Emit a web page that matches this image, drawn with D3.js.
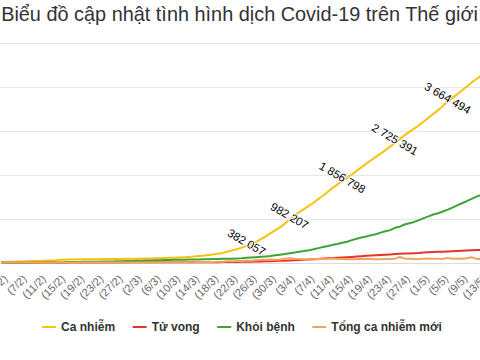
<!DOCTYPE html>
<html><head><meta charset="utf-8">
<script src="https://cdn.jsdelivr.net/npm/d3@7"></script>
<style>html,body{margin:0;padding:0;background:#fff;overflow:hidden}</style>
</head><body>
<svg id="chart" width="480" height="360"></svg>
<script>
const title = "Biểu đồ cập nhật tình hình dịch Covid-19 trên Thế giới";
const seriesNames = ["Ca nhiễm", "Tử vong", "Khỏi bệnh", "Tổng ca nhiễm mới"];
const seriesColors = ["#f5c211", "#e5352b", "#3ea43a", "#f5a35e"];
const firstDay = "1/2", lastDay = "13/5";
const xTickLabels = ["3/2","7/2","11/2","15/2","19/2","23/2","27/2","2/3","6/3","10/3","14/3","18/3","22/3","26/3","30/3","3/4","7/4","11/4","15/4","19/4","23/4","27/4","1/5","5/5","9/5","13/5"];
const yTicks = [0, 1000000, 2000000, 3000000, 4000000, 5000000];
const labelledValues = [382057, 982207, 1856798, 2725391, 3664494];

const cases = [12000,14600,17300,20600,24500,28300,31500,34900,37600,40600,43100,45200,
60400,64400,67100,69300,71400,73300,75200,75700,76800,77800,78800,79300,80200,81300,82700,84100,86000,
88400,90400,93100,95300,98200,102200,106100,110100,114200,119000,126100,134600,
145600,156400,169400,182400,198200,218800,246300,275400,305300,337500,
382057,422600,471800,531900,596700,663100,730000,800000,885000,982207,
1066000,1145000,1217000,1288000,1362000,1446000,1525000,1610000,1700000,1780000,
1856798,1930000,2005000,2086000,2168000,2251000,2330000,2405000,2480000,2560000,2640000,
2725391,2811000,2897000,2975000,3050000,3125000,3210000,3298000,3385000,3470000,3565000,
3664494,3748000,3835000,3925000,4011000,4100000,4180000,4258000,4338000,4420000];

const deaths = [259,362,426,492,564,634,719,806,906,1013,1113,1118,1371,1523,1666,1770,1868,2007,2122,2247,2251,2458,2469,2629,2708,2770,2814,2872,2941,
2996,3085,3160,3254,3348,3460,3558,3802,3988,4262,4615,4720,5404,5819,6440,7126,7905,8733,9867,11299,12973,14623,
16497,18615,21181,23970,27198,30652,33925,37582,42107,46809,52983,58787,64606,69374,74565,81865,88338,95455,102525,108503,
114090,119482,125984,134177,143800,153822,159510,165044,169986,176583,183066,190858,197159,202668,206544,211167,217153,227638,233388,238650,
243401,247503,251537,257239,263855,269567,274898,279311,282709,286330,291942,297197];

const recovered = [280,470,630,850,1120,1490,2050,2620,3250,3950,4680,5150,6300,8100,9400,10900,12600,14400,16200,18200,18900,22900,23400,25200,27900,30400,33300,36700,39800,
42700,45600,48200,51200,53800,55900,58400,60700,62500,64400,67000,68300,70300,72600,76000,78100,80800,83300,84900,87300,91700,97900,
107000,113800,122200,130900,139400,149100,164600,178000,193200,210300,225800,246200,260000,276500,300000,328000,353000,376000,402000,421000,
448000,474000,510000,542000,568000,592000,623000,645000,680000,710000,738000,790000,816000,866000,895000,924000,965000,1012000,1052000,1093000,
1122000,1163000,1205000,1250000,1300000,1350000,1400000,1450000,1500000,1540000,1580000,1620000];

const newCases = [2100,4700,3100,4000,3700,3200,3600,2700,3000,2600,2000,400,
15200,6500,2100,2200,2000,1900,500,600,600,1800,400,600,800,1000,1400,1400,1900,
2400,1900,2500,2300,2800,3900,4000,4000,3700,5000,7300,2500,
16900,10900,11400,14100,15600,17800,27800,29500,32400,32400,
45000,40500,49200,60100,64800,66400,60600,70000,85000,97000,
84000,79000,72000,71000,74000,84000,79000,85000,90000,80000,
77000,73000,75000,81000,82000,83000,79000,75000,75000,80000,
82000,88000,125000,92000,85000,80000,78000,86000,90000,88000,
84000,82000,105000,84000,92000,88000,95000,118000,82000,76000,84000,88000];

const parseDay = s => { const [d, m] = s.split("/").map(Number); return new Date(2020, m - 1, d); };
const dates = d3.timeDay.range(parseDay(firstDay), d3.timeDay.offset(parseDay(lastDay), 1));
const series = [cases, deaths, recovered, newCases];

const svg = d3.select("#chart");
const W = 480, H = 360;
const plotLeft = 2.2, dayPx = 4.79, plotTop = 43, plotBottom = 262.5;

const x = d3.scaleTime()
  .domain([dates[0], dates[dates.length - 1]])
  .range([plotLeft, plotLeft + dayPx * (dates.length - 1)]);
const y = d3.scaleLinear().domain([0, 5000000]).range([plotBottom, plotTop]);

// gridlines
svg.append("g").selectAll("line").data(yTicks).join("line")
  .attr("x1", 0).attr("x2", W)
  .attr("y1", d => Math.round(y(d)) + 0.5).attr("y2", d => Math.round(y(d)) + 0.5)
  .attr("stroke", d => d === 0 ? "#dcdcdc" : "#e6e6e6").attr("stroke-width", 1);

// x axis labels
const xAxis = d3.axisBottom(x)
  .tickValues(xTickLabels.map(parseDay))
  .tickFormat(d => "(" + d.getDate() + "/" + (d.getMonth() + 1) + ")")
  .tickSize(0);
const gx = svg.append("g").attr("transform", `translate(0,${plotBottom})`).call(xAxis);
gx.select(".domain").remove();
gx.selectAll("text")
  .attr("font-family", "Liberation Sans, Arial, sans-serif")
  .attr("font-size", 11).attr("fill", "#666")
  .attr("text-anchor", "end")
  .attr("dy", null).attr("y", 0)
  .attr("transform", "translate(-4,17) rotate(-45)");

// lines
const line = d3.line().x((d, i) => x(dates[i])).y(d => y(d));
series.forEach((s, k) => {
  svg.append("path").datum(s)
    .attr("d", line).attr("fill", "none")
    .attr("stroke", seriesColors[k]).attr("stroke-width", 2)
    .attr("stroke-linejoin", "round").attr("stroke-linecap", "round");
});

// data labels
const fmt = d3.formatLocale({decimal: ",", thousands: " ", grouping: [3], currency: ["", ""]}).format(",d");
labelledValues.forEach(v => {
  const i = cases.indexOf(v);
  const g = svg.append("g").attr("transform", `translate(${x(dates[i])},${y(v) - 3.5}) rotate(30)`);
  g.append("text").text(fmt(v))
    .attr("text-anchor", "middle").attr("dominant-baseline", "central")
    .attr("font-family", "Liberation Sans, Arial, sans-serif").attr("font-size", 11.5)
    .attr("fill", "#000").attr("stroke", "#fff").attr("stroke-width", 2)
    .attr("paint-order", "stroke").attr("stroke-linejoin", "round");
});

// title
const t = svg.append("text").text(title)
  .attr("font-family", "Liberation Sans, Arial, sans-serif").attr("font-size", 18)
  .attr("fill", "#333").attr("text-anchor", "middle").attr("x", 239.5).attr("y", 21);
const tw = t.node().getComputedTextLength();
t.attr("font-size", 18 * 477 / tw);

// legend
const lg = svg.append("g");
let cx = 0;
const items = seriesNames.map((name, k) => {
  const g = lg.append("g");
  g.append("line").attr("x1", 0).attr("x2", 14).attr("y1", 0).attr("y2", 0)
    .attr("stroke", seriesColors[k]).attr("stroke-width", 2);
  const tx = g.append("text").text(name).attr("x", 19).attr("y", 4.3)
    .attr("font-family", "Liberation Sans, Arial, sans-serif").attr("font-size", 12)
    .attr("font-weight", "bold").attr("fill", "#333");
  const w = 19 + tx.node().getComputedTextLength();
  g.attr("transform", `translate(${cx},0)`);
  cx += w + 17.5;
  return w;
});
const totalW = cx - 17.5;
lg.attr("transform", `translate(${242 - totalW / 2},327)`);
</script>
</body></html>
